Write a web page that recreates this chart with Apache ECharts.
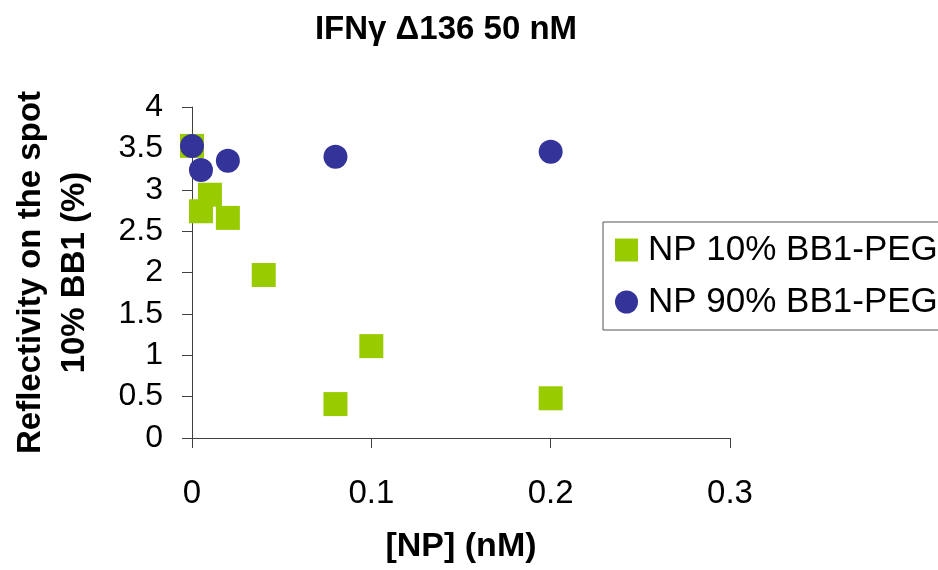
<!DOCTYPE html>
<html>
<head>
<meta charset="utf-8">
<script src="https://cdn.jsdelivr.net/npm/echarts@6/dist/echarts.min.js"></script>
<style>html,body{margin:0;padding:0;background:#fff;}#c{width:938px;height:570px;}</style>
</head>
<body>
<div id="c"></div>
<script>
// Data
const titleText = 'IFNγ Δ136 50 nM';
const xAxisName = '[NP] (nM)';
const yAxisName = 'Reflectivity on the spot\n10% BB1 (%)';
const seriesNames = ['NP 10% BB1-PEG', 'NP 90% BB1-PEG'];
const np10X = [0, 0.005, 0.01, 0.02, 0.04, 0.08, 0.1, 0.2];
const np10Y = [3.53, 2.74, 2.94, 2.66, 1.97, 0.41, 1.11, 0.48];
const np90X = [0, 0.005, 0.02, 0.08, 0.2];
const np90Y = [3.53, 3.24, 3.35, 3.40, 3.46];
const xTicks = { min: 0, max: 0.3, interval: 0.1 };
const yTicks = { min: 0, max: 4, interval: 0.5 };

const pairs = (xs, ys) => xs.map((x, i) => [x, ys[i]]);
const FONT = '"Liberation Sans", Arial, sans-serif';
const axisColor = '#404040';

const chart = echarts.init(document.getElementById('c'), null, { renderer: 'canvas' });
chart.setOption({
  backgroundColor: '#ffffff',
  animation: false,
  title: {
    text: titleText,
    left: 441,
    top: 7,
    textAlign: 'center',
    textStyle: { fontFamily: FONT, fontWeight: 'bold', fontSize: 33, lineHeight: 36, color: '#000' }
  },
  legend: {
    left: 603,
    top: 222,
    orient: 'vertical',
    padding: [10, 30, 10, 12],
    itemGap: 16,
    itemWidth: 23,
    itemHeight: 23,
    borderColor: '#555',
    borderWidth: 1,
    textStyle: { fontFamily: FONT, fontSize: 35, lineHeight: 36, color: '#000', padding: [0, 0, 0, 5] },
    data: [
      { name: seriesNames[0], icon: 'rect' },
      { name: seriesNames[1], icon: 'circle' }
    ]
  },
  grid: { left: 192, right: 208, top: 107, bottom: 128, containLabel: false },
  xAxis: {
    type: 'value',
    min: xTicks.min, max: xTicks.max, interval: xTicks.interval,
    name: xAxisName,
    nameLocation: 'middle',
    nameGap: 91,
    nameTextStyle: { fontFamily: FONT, fontWeight: 'bold', fontSize: 34, lineHeight: 36, color: '#000' },
    axisLine: { show: true, onZero: false, lineStyle: { color: axisColor, width: 1 } },
    axisTick: { show: true, inside: false, length: 10, lineStyle: { color: axisColor } },
    axisLabel: { margin: 39, fontFamily: FONT, fontSize: 33, color: '#000', formatter: v => String(+v.toFixed(2)) },
    splitLine: { show: false }
  },
  yAxis: {
    type: 'value',
    min: yTicks.min, max: yTicks.max, interval: yTicks.interval,
    name: yAxisName,
    nameLocation: 'middle',
    nameGap: 95,
    nameTextStyle: { fontFamily: FONT, fontWeight: 'bold', fontSize: 33, lineHeight: 44, color: '#000' },
    axisLine: { show: true, onZero: false, lineStyle: { color: axisColor, width: 1 } },
    axisTick: { show: true, inside: false, length: 10, lineStyle: { color: axisColor } },
    axisLabel: { margin: 29, fontFamily: FONT, fontSize: 32, color: '#000', formatter: v => String(+v.toFixed(2)) },
    splitLine: { show: false }
  },
  series: [
    {
      name: seriesNames[0],
      type: 'scatter',
      symbol: 'rect',
      symbolSize: 24,
      itemStyle: { color: '#99CC00', opacity: 1 },
      data: pairs(np10X, np10Y),
      z: 2
    },
    {
      name: seriesNames[1],
      type: 'scatter',
      symbol: 'circle',
      symbolSize: 24,
      itemStyle: { color: '#333399', opacity: 1 },
      data: pairs(np90X, np90Y),
      z: 3
    }
  ]
});
</script>
</body>
</html>
